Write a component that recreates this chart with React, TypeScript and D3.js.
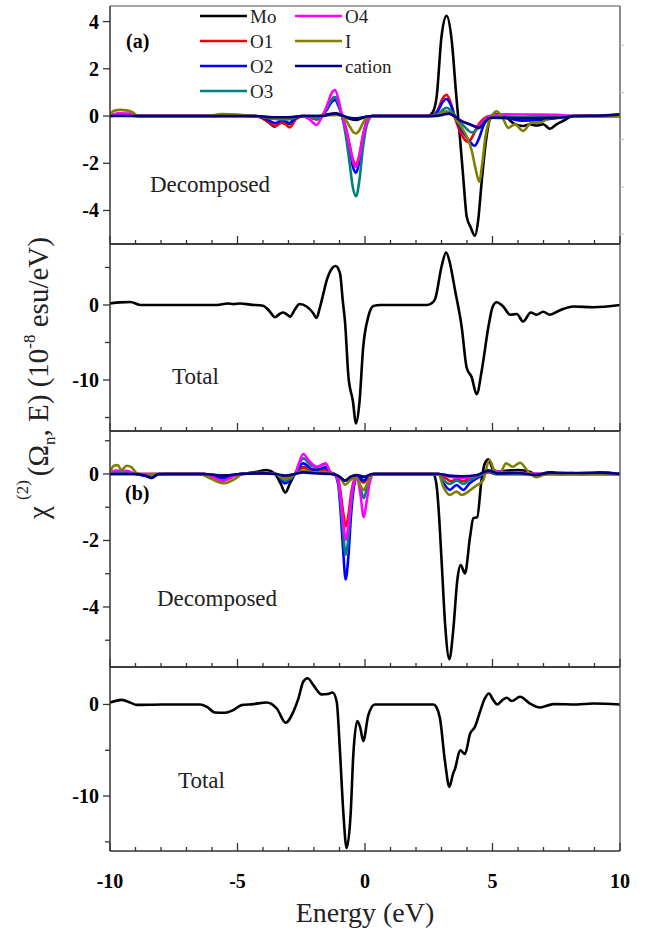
import React, { useEffect, useRef } from 'react';
import * as d3 from 'd3';

type Pt = [number, number];

const seriesNames = ['Mo', 'O1', 'O2', 'O3', 'O4', 'I', 'cation'];
const seriesColors = ['#000000', '#ff0000', '#0000ff', '#008080', '#ff00ff', '#808000', '#000080'];
const xMajorTicks = [-10, -5, 0, 5, 10];

// ---- panel (a), decomposed ----
const aMo: Pt[] = [[-10,0.05],[-9.4,0.06],[-8.8,0],[-6,0],[-5.3,0.03],[-4.6,0],[-4.1,-0.05],[-3.8,-0.25],[-3.55,-0.45],[-3.3,-0.28],[-3.0,-0.35],[-2.75,-0.08],[-2.5,0],[-1.8,0],[-1.4,0.08],[-1.15,0.12],[-0.9,0.02],[-0.6,-0.12],[-0.35,-0.17],[-0.1,-0.08],[0.3,0],[2.45,0],[2.65,0.15],[2.81,0.82],[3.0,3.36],[3.2,4.24],[3.4,3.2],[3.57,0.98],[3.73,-1.0],[3.86,-2.7],[3.99,-4.27],[4.14,-4.7],[4.31,-5.07],[4.44,-4.4],[4.57,-2.85],[4.75,-1.0],[4.9,-0.14],[5.16,0.07],[5.55,-0.07],[5.88,-0.35],[6.2,-0.42],[6.47,-0.35],[6.73,-0.4],[6.99,-0.35],[7.25,-0.54],[7.51,-0.35],[7.78,-0.2],[8.17,0],[9.2,0],[10,0.06]];
const aO1: Pt[] = [[-10,0],[-9.5,0.03],[-8.8,0],[-4.3,0],[-3.85,-0.2],[-3.5,-0.42],[-3.25,-0.25],[-2.95,-0.48],[-2.7,-0.12],[-2.4,0],[-2.1,-0.08],[-1.9,-0.15],[-1.72,-0.02],[-1.5,0.3],[-1.32,0.68],[-1.18,0.8],[-1.03,0.48],[-0.9,0],[-0.75,-0.5],[-0.6,-1.23],[-0.47,-1.85],[-0.35,-2.05],[-0.22,-1.64],[-0.08,-0.82],[0.08,-0.2],[0.3,0],[2.6,0],[2.85,0.25],[3.05,0.75],[3.2,0.9],[3.35,0.6],[3.55,-0.15],[3.75,-0.7],[3.95,-1.05],[4.05,-1.1],[4.2,-0.9],[4.4,-0.45],[4.65,-0.12],[4.9,0],[5.5,-0.03],[6.2,-0.08],[7,-0.05],[8,0],[10,0]];
const aO2: Pt[] = [[-10,0],[-9.5,0.03],[-8.8,0],[-4.3,0],[-3.85,-0.15],[-3.5,-0.3],[-3.25,-0.18],[-2.95,-0.3],[-2.7,-0.08],[-2.4,0],[-2.1,-0.06],[-1.9,-0.12],[-1.72,-0.02],[-1.5,0.26],[-1.32,0.58],[-1.18,0.68],[-1.03,0.4],[-0.9,0],[-0.75,-0.6],[-0.6,-1.44],[-0.47,-2.16],[-0.35,-2.4],[-0.22,-1.92],[-0.08,-0.96],[0.08,-0.24],[0.3,0],[2.6,0],[2.85,0.2],[3.05,0.6],[3.2,0.72],[3.35,0.5],[3.55,-0.1],[3.8,-0.6],[4.05,-1.0],[4.3,-1.26],[4.45,-1.0],[4.65,-0.4],[4.9,-0.05],[5.5,-0.08],[6.2,-0.2],[6.8,-0.18],[7.5,-0.08],[8.2,0],[10,0]];
const aO3: Pt[] = [[-10,0],[-9.5,0.02],[-8.8,0],[-4.3,0],[-3.7,-0.1],[-3.3,-0.15],[-2.9,-0.12],[-2.5,0],[-2.1,-0.06],[-1.9,-0.12],[-1.72,-0.02],[-1.5,0.3],[-1.32,0.68],[-1.18,0.8],[-1.03,0.48],[-0.9,0],[-0.75,-0.85],[-0.6,-2.04],[-0.47,-3.06],[-0.35,-3.4],[-0.22,-2.72],[-0.08,-1.36],[0.08,-0.34],[0.3,0],[2.6,0],[2.9,0.12],[3.2,0.35],[3.4,0.2],[3.6,-0.1],[3.9,-0.45],[4.2,-0.7],[4.4,-0.55],[4.65,-0.2],[4.9,0],[6,-0.05],[7,-0.05],[8,0],[10,0]];
const aO4: Pt[] = [[-10,0],[-9.7,0.12],[-9.2,0.1],[-8.8,0],[-4.3,0],[-3.7,-0.08],[-3.3,-0.1],[-2.9,-0.08],[-2.5,0],[-2.2,-0.12],[-1.9,-0.38],[-1.72,-0.1],[-1.5,0.4],[-1.32,0.95],[-1.18,1.1],[-1.03,0.65],[-0.9,0],[-0.75,-0.54],[-0.6,-1.29],[-0.47,-1.94],[-0.35,-2.15],[-0.22,-1.72],[-0.08,-0.86],[0.08,-0.22],[0.3,0],[2.7,0],[3.0,0.08],[3.2,0.12],[3.4,0.05],[3.7,-0.15],[4.1,-0.35],[4.4,-0.45],[4.7,-0.15],[5.0,0.03],[5.5,0.07],[6.5,0.06],[7.5,0.05],[8.3,0],[10,0]];
const aI: Pt[] = [[-10,0.05],[-9.85,0.22],[-9.6,0.26],[-9.35,0.24],[-9.1,0.15],[-8.9,0],[-6.2,0],[-5.6,0.08],[-5,0.06],[-4.4,0],[-3.7,-0.08],[-3.3,-0.1],[-2.9,-0.08],[-2.5,0],[-2.0,-0.05],[-1.7,0],[-1.4,0.03],[-1.1,0.05],[-0.9,0],[-0.75,-0.18],[-0.6,-0.44],[-0.47,-0.67],[-0.35,-0.74],[-0.22,-0.6],[-0.08,-0.3],[0.08,-0.07],[0.3,0],[2.7,0],[3.0,0.12],[3.2,0.2],[3.4,0.1],[3.6,-0.2],[3.8,-0.5],[4.0,-0.9],[4.18,-1.44],[4.33,-2.2],[4.48,-2.78],[4.6,-2.0],[4.72,-0.9],[4.84,-0.3],[5.0,0.05],[5.16,0.2],[5.43,-0.15],[5.62,-0.5],[5.88,-0.35],[6.2,-0.63],[6.53,-0.28],[6.86,-0.28],[7.2,-0.1],[7.6,-0.05],[8.2,0],[10,0]];
const aCation: Pt[] = [[-10,0],[-8.8,0],[-4.3,0],[-3.6,-0.05],[-3.0,-0.05],[-2.4,0],[-1.7,0],[-1.4,0.07],[-1.15,0.1],[-0.9,0.02],[-0.6,-0.07],[-0.35,-0.1],[-0.1,-0.05],[0.3,0],[2.7,0],[3.05,0.05],[3.3,0.1],[3.5,0],[3.75,-0.2],[4.1,-0.35],[4.47,-0.5],[4.7,-0.25],[4.9,-0.07],[5.5,-0.08],[6.5,-0.1],[7.5,-0.08],[8.3,0],[9.3,0.02],[10,0.07]];

// ---- panel (a), total ----
const aTotal: Pt[] = [[-10,0.22],[-9.6,0.35],[-9.2,0.4],[-8.8,0],[-7,0],[-5.8,0],[-5.4,0.2],[-5.15,0.12],[-4.9,0.2],[-4.5,0.05],[-4.0,-0.1],[-3.75,-0.8],[-3.53,-1.64],[-3.35,-1.2],[-3.2,-1.0],[-3.05,-1.3],[-2.94,-1.55],[-2.75,-0.6],[-2.57,0.13],[-2.29,-0.2],[-2.05,-1.0],[-1.9,-1.7],[-1.78,-0.5],[-1.63,1.55],[-1.5,3.3],[-1.37,4.45],[-1.15,5.2],[-0.98,4.2],[-0.87,0.5],[-0.78,-2.4],[-0.65,-9.56],[-0.48,-12.7],[-0.35,-15.8],[-0.22,-13.1],[-0.07,-5.6],[0.13,-1.55],[0.33,-0.13],[0.6,0],[2.42,0],[2.6,0.2],[2.75,0.8],[3.0,5.1],[3.18,7.0],[3.33,5.6],[3.45,3.5],[3.53,2.0],[3.79,-2.9],[3.99,-8.4],[4.18,-9.6],[4.38,-11.9],[4.58,-8.7],[4.84,-2.9],[5.0,-0.3],[5.16,0.36],[5.42,-0.2],[5.69,-1.3],[5.95,-1.2],[6.2,-2.2],[6.5,-1.0],[6.73,-1.3],[6.99,-0.9],[7.25,-1.3],[7.65,-0.7],[8.17,-0.2],[8.95,-0.3],[10,0]];

// ---- panel (b), decomposed ----
const bMo: Pt[] = [[-10,0],[-9,0],[-6.5,0],[-5.6,-0.05],[-4.8,0],[-4.3,0.06],[-3.86,0.12],[-3.55,0.02],[-3.3,-0.3],[-3.13,-0.56],[-2.95,-0.3],[-2.75,0],[-2.42,0.2],[-2.1,0.12],[-1.6,0.15],[-1.35,0.02],[-1.1,-0.05],[-0.78,-0.2],[-0.5,-0.06],[-0.33,-0.05],[-0.05,-0.1],[0.3,0],[2.68,0],[2.8,-0.3],[2.88,-0.98],[3.01,-2.7],[3.14,-4.5],[3.31,-5.57],[3.46,-4.7],[3.62,-3.19],[3.75,-2.74],[3.92,-2.99],[4.12,-1.89],[4.25,-1.33],[4.4,-1.3],[4.57,-0.18],[4.7,0.32],[4.84,0.44],[5.03,0.12],[5.29,0.07],[5.55,0.1],[6.0,0.12],[6.47,0.07],[6.73,-0.06],[7.0,0.02],[7.3,0.05],[7.7,0],[8.1,0.03],[8.6,0],[9.2,0.04],[10,0]];
const bO1: Pt[] = [[-10,0],[-9.8,0.05],[-9.3,0.04],[-9,0],[-8.4,-0.04],[-7.8,0],[-6.3,0],[-5.6,-0.15],[-4.9,0],[-4.0,0.03],[-3.5,0],[-3.13,-0.15],[-2.75,0],[-2.42,0.19],[-2.1,0.1],[-1.9,0.08],[-1.55,0.12],[-1.35,0.02],[-1.2,0],[-1.05,-0.16],[-0.95,-0.6],[-0.85,-1.18],[-0.76,-1.58],[-0.65,-1.23],[-0.55,-0.63],[-0.45,-0.24],[-0.32,-0.08],[-0.18,-0.18],[-0.05,-0.26],[0.1,-0.12],[0.35,0],[2.9,0],[3.2,-0.15],[3.4,-0.22],[3.6,-0.15],[3.85,-0.22],[4.1,-0.1],[4.5,-0.03],[4.85,0.05],[5.2,0],[10,0]];
const bO2: Pt[] = [[-10,0],[-9.8,0.04],[-9.3,0.03],[-9,0],[-8.6,-0.06],[-8.37,-0.12],[-8.1,0],[-6.3,0],[-5.6,-0.12],[-4.9,0],[-4.0,0.03],[-3.5,0],[-3.13,-0.28],[-2.75,0],[-2.42,0.32],[-2.1,0.15],[-1.9,0.12],[-1.55,0.2],[-1.35,0.03],[-1.2,0],[-1.05,-0.32],[-0.95,-1.2],[-0.85,-2.38],[-0.76,-3.17],[-0.65,-2.47],[-0.55,-1.27],[-0.45,-0.48],[-0.32,-0.1],[-0.18,-0.15],[-0.05,-0.2],[0.1,-0.1],[0.35,0],[2.88,0],[3.1,-0.3],[3.33,-0.48],[3.59,-0.33],[3.85,-0.48],[4.1,-0.28],[4.5,-0.08],[4.85,0.08],[5.1,0],[10,0]];
const bO3: Pt[] = [[-10,0],[-9.8,0.06],[-9.3,0.05],[-9,0],[-8.4,-0.03],[-7.8,0],[-6.3,0],[-5.6,-0.2],[-4.9,0],[-4.0,0.03],[-3.5,0],[-3.13,-0.2],[-2.75,0],[-2.42,0.47],[-2.1,0.25],[-1.9,0.2],[-1.55,0.3],[-1.35,0.04],[-1.2,0],[-1.05,-0.24],[-0.95,-0.92],[-0.85,-1.82],[-0.76,-2.43],[-0.65,-1.9],[-0.55,-0.97],[-0.45,-0.36],[-0.32,-0.12],[-0.18,-0.4],[-0.05,-0.73],[0.08,-0.4],[0.2,-0.1],[0.35,0],[2.9,0],[3.1,-0.2],[3.33,-0.3],[3.6,-0.2],[3.85,-0.3],[4.1,-0.18],[4.5,-0.05],[4.85,0.08],[5.1,0],[10,0]];
const bO4: Pt[] = [[-10,0],[-9.8,0.1],[-9.3,0.09],[-9,0],[-7.8,0],[-6.3,0],[-5.6,-0.2],[-4.9,0],[-4.0,0.02],[-3.5,0],[-3.13,-0.12],[-2.75,0],[-2.6,0.3],[-2.42,0.6],[-2.2,0.4],[-1.9,0.22],[-1.55,0.32],[-1.35,0.05],[-1.2,0],[-1.05,-0.2],[-0.95,-0.75],[-0.85,-1.49],[-0.76,-1.98],[-0.65,-1.54],[-0.55,-0.79],[-0.45,-0.3],[-0.32,-0.1],[-0.18,-0.6],[-0.05,-1.3],[0.08,-0.75],[0.2,-0.2],[0.35,0],[2.9,0],[3.3,-0.08],[3.8,-0.12],[4.2,-0.08],[4.6,0.02],[4.85,0.1],[5.5,0.05],[6.2,0.03],[7,0],[10,0]];
const bI: Pt[] = [[-10,0.05],[-9.85,0.25],[-9.7,0.27],[-9.55,0.12],[-9.35,0.25],[-9.15,0.2],[-8.95,0.02],[-8.6,-0.03],[-8.2,0],[-6.5,0],[-6.1,-0.12],[-5.56,-0.28],[-5.1,-0.15],[-4.8,0],[-4.0,0.03],[-3.5,0],[-3.13,-0.15],[-2.75,0],[-2.42,0.1],[-2.0,0.05],[-1.55,0.06],[-1.3,0],[-1.05,-0.05],[-0.9,-0.2],[-0.78,-0.33],[-0.6,-0.2],[-0.45,-0.12],[-0.3,-0.14],[-0.18,-0.35],[-0.05,-0.48],[0.08,-0.3],[0.2,-0.08],[0.35,0],[2.88,0],[3.07,-0.38],[3.33,-0.63],[3.59,-0.53],[3.79,-0.63],[4.05,-0.53],[4.31,-0.38],[4.64,-0.18],[4.88,0.42],[5.1,0.07],[5.29,0.02],[5.53,0.32],[5.79,0.22],[6.08,0.34],[6.4,0.07],[6.73,-0.1],[7.1,0],[10,0]];
const bCation: Pt[] = [[-10,0],[-9,0],[-8.6,-0.05],[-8.37,-0.12],[-8.1,0],[-6.3,0],[-5.6,-0.05],[-4.9,0],[-4.0,0.02],[-3.5,0],[-3.13,-0.05],[-2.75,0],[-2.42,0.05],[-2.0,0.02],[-1.3,0],[-1.0,-0.08],[-0.78,-0.2],[-0.55,-0.08],[-0.33,-0.03],[-0.05,-0.08],[0.3,0],[2.9,0],[3.3,-0.05],[3.8,-0.07],[4.4,-0.03],[4.85,0.1],[5.2,0.02],[6,0.03],[6.7,-0.03],[7.3,0.04],[8.1,0.03],[9.2,0.04],[10,0]];

// ---- panel (b), total ----
const bTotal: Pt[] = [[-10,0.2],[-9.54,0.5],[-9.2,0.2],[-8.95,-0.05],[-8,0],[-6.47,0],[-6.2,-0.26],[-5.88,-0.88],[-5.49,-0.9],[-5.16,-0.6],[-4.84,-0.07],[-4.38,0.04],[-3.86,0.22],[-3.46,-0.44],[-3.11,-2.0],[-2.81,-0.8],[-2.61,0.66],[-2.42,2.5],[-2.25,2.86],[-2.03,2.13],[-1.7,1.1],[-1.45,1.15],[-1.27,1.3],[-1.11,0.3],[-0.98,-5.2],[-0.85,-11.8],[-0.72,-15.7],[-0.56,-11.8],[-0.46,-5.56],[-0.3,-1.8],[-0.18,-2.6],[-0.07,-4.0],[0.13,-1.17],[0.39,0],[2.68,0],[2.8,-0.3],[2.94,-1.5],[3.14,-6.3],[3.31,-9.0],[3.45,-7.6],[3.53,-7.03],[3.73,-5.0],[3.92,-5.4],[4.12,-3.2],[4.31,-2.45],[4.51,-0.8],[4.7,0.66],[4.86,1.2],[5.03,0.48],[5.19,0],[5.4,0.5],[5.56,0.73],[5.75,0.37],[6.08,0.84],[6.47,0.1],[6.86,-0.33],[7.39,0.04],[8.3,0],[8.95,0.1],[10,0]];

const FONT = "'Liberation Serif', 'Times New Roman', serif";

const panels = [
  { top: 6, bottom: 244, domain: [-5.42, 4.66], major: [4, 2, 0, -2, -4], minor: [] as number[], rightMinor: [3, 1, -1, -3, -5],
    series: [aMo, aO1, aO2, aO3, aO4, aI, aCation], text: 'Decomposed', tx: 150, ty: 192 },
  { top: 244, bottom: 431, domain: [-16.8, 8.13], major: [0, -10], minor: [5, -5, -15], rightMinor: [] as number[],
    series: [aTotal], text: 'Total', tx: 172, ty: 384 },
  { top: 431, bottom: 667, domain: [-5.805, 1.293], major: [0, -2, -4], minor: [1, -1, -3, -5], rightMinor: [] as number[],
    series: [bMo, bO1, bO2, bO3, bO4, bI, bCation], text: 'Decomposed', tx: 157, ty: 606 },
  { top: 667, bottom: 851, domain: [-16.0, 4.09], major: [0, -10], minor: [-5, -15], rightMinor: [] as number[],
    series: [bTotal], text: 'Total', tx: 178, ty: 788 },
];

const App = () => {
  const svgRef = useRef<SVGSVGElement>(null);

  useEffect(() => {
    const svg = d3.select(svgRef.current);
    svg.selectAll('*').remove();
    svg.append('rect').attr('width', 648).attr('height', 936).attr('fill', '#fff');

    const x = d3.scaleLinear().domain([-10, 10]).range([110, 620]);
    const xMinor = d3.range(-10, 11, 1);

    panels.forEach((p, pi) => {
      const y = d3.scaleLinear().domain(p.domain).range([p.bottom, p.top]);
      const clipId = `clip-${pi}`;
      svg.append('clipPath').attr('id', clipId)
        .append('rect').attr('x', 110).attr('y', p.top).attr('width', 510).attr('height', p.bottom - p.top);

      const line = d3.line<Pt>()
        .x(d => x(d[0]))
        .y(d => y(d[1]))
        .curve(d3.curveMonotoneX);

      const g = svg.append('g').attr('clip-path', `url(#${clipId})`);
      p.series.forEach((s, i) => {
        g.append('path')
          .datum(s)
          .attr('fill', 'none')
          .attr('stroke', p.series.length === 1 ? '#000' : seriesColors[i])
          .attr('stroke-width', 2.6)
          .attr('stroke-linejoin', 'round')
          .attr('d', line);
      });

      // frame: top/right a bit lighter, left/bottom dark
      svg.append('line').attr('x1', 110).attr('x2', 620).attr('y1', p.top).attr('y2', p.top)
        .attr('stroke', pi === 0 ? '#888' : '#333').attr('stroke-width', 1.5);
      svg.append('line').attr('x1', 620).attr('x2', 620).attr('y1', p.top).attr('y2', p.bottom)
        .attr('stroke', '#666').attr('stroke-width', 1.5);
      svg.append('line').attr('x1', 110).attr('x2', 110).attr('y1', p.top).attr('y2', p.bottom)
        .attr('stroke', '#333').attr('stroke-width', 1.5);
      svg.append('line').attr('x1', 110).attr('x2', 620).attr('y1', p.bottom).attr('y2', p.bottom)
        .attr('stroke', '#333').attr('stroke-width', 1.5);

      // x ticks, inward
      xMinor.forEach(v => {
        const major = xMajorTicks.includes(v);
        svg.append('line')
          .attr('x1', x(v)).attr('x2', x(v))
          .attr('y1', p.bottom).attr('y2', p.bottom - (major ? 8 : 4))
          .attr('stroke', '#333').attr('stroke-width', 1.3);
      });

      // y ticks, outward
      p.major.forEach(v => {
        svg.append('line')
          .attr('x1', 110).attr('x2', 103).attr('y1', y(v)).attr('y2', y(v))
          .attr('stroke', '#333').attr('stroke-width', 1.3);
        svg.append('text')
          .attr('x', 99).attr('y', y(v)).attr('dy', '0.35em')
          .attr('text-anchor', 'end')
          .style('font-family', FONT).style('font-weight', 'bold').style('font-size', '20px')
          .text(v < 0 ? `-${Math.abs(v)}` : `${v}`);
      });
      p.minor.forEach(v => {
        svg.append('line')
          .attr('x1', 110).attr('x2', 105).attr('y1', y(v)).attr('y2', y(v))
          .attr('stroke', '#333').attr('stroke-width', 1.3);
      });
      p.rightMinor.forEach(v => {
        svg.append('line')
          .attr('x1', 620).attr('x2', 624).attr('y1', y(v)).attr('y2', y(v))
          .attr('stroke', '#bbb').attr('stroke-width', 1);
      });

      svg.append('text')
        .attr('x', p.tx).attr('y', p.ty)
        .style('font-family', FONT).style('font-size', '23px').attr('fill', '#222')
        .text(p.text);
    });

    // panel letters
    svg.append('text').attr('x', 126).attr('y', 48)
      .style('font-family', FONT).style('font-weight', 'bold').style('font-size', '20px').text('(a)');
    svg.append('text').attr('x', 125).attr('y', 500)
      .style('font-family', FONT).style('font-weight', 'bold').style('font-size', '20px').text('(b)');

    // legend
    seriesNames.forEach((name, i) => {
      const col = i < 4 ? 0 : 1;
      const row = i < 4 ? i : i - 4;
      const lx = col === 0 ? 200 : 295;
      const ly = 16 + row * 25;
      svg.append('line')
        .attr('x1', lx).attr('x2', lx + 47).attr('y1', ly).attr('y2', ly)
        .attr('stroke', seriesColors[i]).attr('stroke-width', 2.6);
      svg.append('text')
        .attr('x', lx + 50).attr('y', ly + 7)
        .style('font-family', FONT).style('font-size', '19px').attr('fill', '#222')
        .text(name);
    });

    // x tick labels
    xMajorTicks.forEach(v => {
      svg.append('text')
        .attr('x', x(v)).attr('y', 888)
        .attr('text-anchor', 'middle')
        .style('font-family', FONT).style('font-weight', 'bold').style('font-size', '20px')
        .text(v < 0 ? `-${Math.abs(v)}` : `${v}`);
    });

    svg.append('text')
      .attr('x', 365).attr('y', 922)
      .attr('text-anchor', 'middle')
      .style('font-family', FONT).style('font-size', '28px').attr('fill', '#222')
      .text('Energy (eV)');

    // y axis label
    const yl = svg.append('text')
      .attr('transform', 'translate(48, 378) rotate(-90)')
      .attr('text-anchor', 'middle')
      .style('font-family', FONT).style('font-size', '29px').attr('fill', '#222');
    yl.append('tspan').text('χ');
    yl.append('tspan').attr('dx', 6).attr('dy', -20).style('font-size', '17px').text('(2)');
    yl.append('tspan').attr('dx', 4).attr('dy', 20).text('(Ω');
    yl.append('tspan').attr('dy', 7).style('font-size', '17px').text('n');
    yl.append('tspan').attr('dy', -7).text(', E) (10');
    yl.append('tspan').attr('dy', -13).style('font-size', '17px').text('-8');
    yl.append('tspan').attr('dy', 13).text(' esu/eV)');
  }, []);

  return (
    <svg ref={svgRef} width={648} height={936}
      style={{ position: 'absolute', left: 0, top: 0, display: 'block' }} />
  );
};

export default App;
